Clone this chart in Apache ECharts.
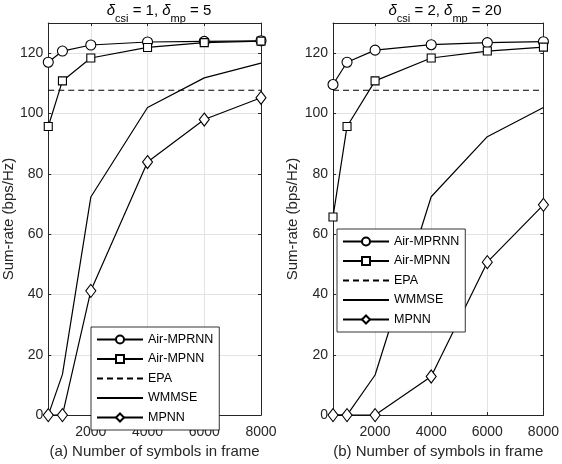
<!DOCTYPE html>
<html><head><meta charset="utf-8">
<script src="https://cdn.jsdelivr.net/npm/echarts@6/dist/echarts.min.js"></script>
<style>html,body{margin:0;padding:0;background:#fff}#c{width:562px;height:464px}</style>
</head><body><div id="c"></div>
<script>
const xValues = [500, 1000, 2000, 4000, 6000, 8000];
const xTicks = [2000, 4000, 6000, 8000];
const yTicks = [0, 20, 40, 60, 80, 100, 120];
const seriesNames = ['Air-MPRNN', 'Air-MPNN', 'EPA', 'WMMSE', 'MPNN'];
// panel (a): delta_csi = 1, delta_mp = 5
const a_airMPRNN = [117, 120.7, 122.7, 123.7, 123.9, 124.1];
const a_airMPNN = [95.7, 110.8, 118.4, 121.9, 123.5, 124];
const a_EPA = [107.7, 107.7, 107.7, 107.7, 107.7, 107.7];
const a_WMMSE = [0, 13.5, 72.3, 102, 111.8, 116.7];
const a_MPNN = [0, 0, 41.2, 83.9, 98, 105.2];
// panel (b): delta_csi = 2, delta_mp = 20
const b_airMPRNN = [109.6, 117, 121, 122.8, 123.5, 123.8];
const b_airMPNN = [65.7, 95.7, 110.8, 118.4, 120.7, 122];
const b_EPA = [107.7, 107.7, 107.7, 107.7, 107.7, 107.7];
const b_WMMSE = [0, 0, 13.3, 72.4, 92.3, 102];
const b_MPNN = [0, 0, 0, 12.8, 50.7, 69.7];

const FONT = '"Liberation Sans", Arial, Helvetica, sans-serif';
const AX = '#262626';
const GRIDC = '#e3e3e3';

const chart = echarts.init(document.getElementById('c'), null, {renderer: 'canvas'});
const plain = v => String(v);

function mainX(gi, name) {
  return {
    type: 'value', gridIndex: gi, min: 500, max: 8000, position: 'bottom',
    name: name, nameLocation: 'middle', nameGap: 23,
    nameTextStyle: {fontFamily: FONT, fontSize: 15, color: AX},
    axisLine: {show: true, onZero: false, lineStyle: {color: AX, width: 1}},
    axisTick: {show: true, inside: true, length: 3, customValues: xTicks, lineStyle: {color: AX}},
    axisLabel: {show: true, margin: 10, fontFamily: FONT, fontSize: 14, color: AX, customValues: xTicks, formatter: plain},
    splitLine: {show: true, lineStyle: {color: GRIDC, width: 1}}
  };
}
function topX(gi) {
  return {
    type: 'value', gridIndex: gi, min: 500, max: 8000, position: 'top',
    axisLine: {show: true, onZero: false, lineStyle: {color: AX, width: 1}},
    axisTick: {show: true, inside: true, length: 3, customValues: xTicks, lineStyle: {color: AX}},
    axisLabel: {show: false, customValues: xTicks},
    splitLine: {show: false}
  };
}
function mainY(gi) {
  return {
    type: 'value', gridIndex: gi, min: 0, max: 130, position: 'left',
    name: 'Sum-rate (bps/Hz)', nameLocation: 'middle', nameGap: 32,
    nameTextStyle: {fontFamily: FONT, fontSize: 15, color: AX},
    axisLine: {show: true, onZero: false, lineStyle: {color: AX, width: 1}},
    axisTick: {show: true, inside: true, length: 3, customValues: yTicks, lineStyle: {color: AX}},
    axisLabel: {show: true, margin: 5, fontFamily: FONT, fontSize: 14, color: AX, customValues: yTicks, formatter: plain},
    splitLine: {show: true, lineStyle: {color: GRIDC, width: 1}}
  };
}
function rightY(gi) {
  return {
    type: 'value', gridIndex: gi, min: 0, max: 130, position: 'right',
    axisLine: {show: true, onZero: false, lineStyle: {color: AX, width: 1}},
    axisTick: {show: true, inside: true, length: 3, customValues: yTicks, lineStyle: {color: AX}},
    axisLabel: {show: false, customValues: yTicks},
    splitLine: {show: false}
  };
}

const styles = [
  {symbol: 'circle', symbolSize: 10, type: 'solid', marker: true},
  {symbol: 'rect', symbolSize: 8, type: 'solid', marker: true},
  {symbol: 'circle', symbolSize: 1, type: [6, 4], marker: false},
  {symbol: 'circle', symbolSize: 1, type: 'solid', marker: false},
  {symbol: 'diamond', symbolSize: [10, 13], type: 'solid', marker: true}
];

function makeSeries(gi, arrays) {
  return arrays.map((arr, k) => ({
    name: seriesNames[k], type: 'line', xAxisIndex: gi, yAxisIndex: gi,
    data: xValues.map((x, i) => [x, arr[i]]),
    symbol: styles[k].symbol, symbolSize: styles[k].symbolSize,
    showSymbol: styles[k].marker,
    lineStyle: {color: '#000', width: 1.2, type: styles[k].type},
    itemStyle: styles[k].marker
      ? {color: '#fff', borderColor: '#000', borderWidth: 1.1}
      : {color: 'rgba(0,0,0,0)', borderColor: 'rgba(0,0,0,0)', borderWidth: 0},
    emphasis: {disabled: true}, animation: false, z: 3
  }));
}

function titleRich(v1, v2) {
  const base = {fontFamily: FONT, color: '#000', fontWeight: 'normal'};
  return {
    text: '{d|δ}{s|csi}{n| = ' + v1 + ', }{d|δ}{s|mp}{n| = ' + v2 + '}',
    textStyle: {
      fontWeight: 'normal',
      rich: {
        d: Object.assign({fontSize: 15, fontStyle: 'italic', lineHeight: 18, verticalAlign: 'top'}, base),
        n: Object.assign({fontSize: 15, lineHeight: 18, verticalAlign: 'top'}, base),
        s: Object.assign({fontSize: 11, lineHeight: 12, padding: [10, 0, 0, 0], verticalAlign: 'top'}, base)
      }
    }
  };
}

const legendBase = {
  orient: 'vertical', data: seriesNames, itemWidth: 46, itemHeight: 10, itemGap: 6.5,
  padding: [6, 6, 6, 5], backgroundColor: '#fff', borderColor: '#000', borderWidth: 0.8,
  textStyle: {fontFamily: FONT, fontSize: 12.5, color: '#000'}, selectedMode: false
};

const option = {
  backgroundColor: '#fff',
  animation: false,
  title: [
    Object.assign({left: 154, top: -2, textAlign: 'center'}, titleRich(1, 5)),
    Object.assign({left: 440, top: -2, textAlign: 'center'}, titleRich(2, 20))
  ],
  grid: [
    {left: 47, top: 23, right: 301, bottom: 43, containLabel: false},
    {left: 333, top: 23, right: 15, bottom: 43, containLabel: false}
  ],
  legend: [
    Object.assign({left: 91, top: 327}, legendBase),
    Object.assign({left: 337, top: 229}, legendBase)
  ],
  xAxis: [mainX(0, '(a) Number of symbols in frame'), mainX(1, '(b) Number of symbols in frame'), topX(0), topX(1)],
  yAxis: [mainY(0), mainY(1), rightY(0), rightY(1)],
  series: [].concat(
    makeSeries(0, [a_airMPRNN, a_airMPNN, a_EPA, a_WMMSE, a_MPNN]),
    makeSeries(1, [b_airMPRNN, b_airMPNN, b_EPA, b_WMMSE, b_MPNN])
  )
};
chart.setOption(option);
</script></body></html>
